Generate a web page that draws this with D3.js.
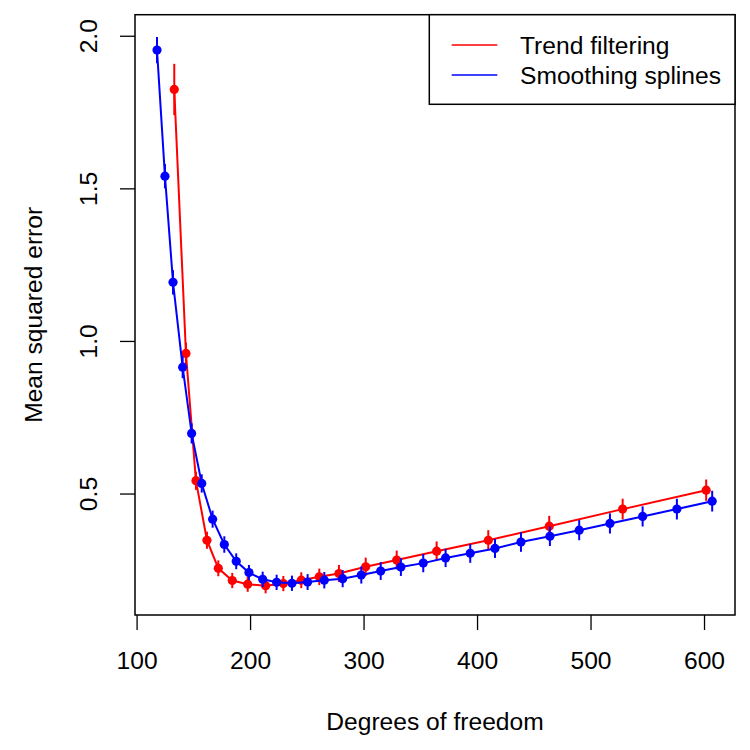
<!DOCTYPE html>
<html>
<head>
<meta charset="utf-8">
<script src="https://cdn.jsdelivr.net/npm/d3@7"></script>
<style>
  html, body { margin: 0; padding: 0; background: #fff; }
  svg { display: block; font-family: "Liberation Sans", Arial, Helvetica, sans-serif; }
</style>
</head>
<body>
<svg id="chart" width="750" height="750"></svg>
<script>
// ---- Data ----
const seriesNames = ["Trend filtering", "Smoothing splines"];
const seriesColors = ["#ff0000", "#0000ff"];

const tfDf  = [133.2, 143.5, 152.3, 162.0, 172.0, 184.3, 197.9, 213.7, 229.3, 245.1, 261.0, 278.3, 301.9, 329.2, 364.4, 409.9, 463.6, 528.3, 601.9];
const tfMse = [1.824, 0.959, 0.542, 0.347, 0.255, 0.215, 0.203, 0.198, 0.205, 0.216, 0.227, 0.238, 0.260, 0.282, 0.311, 0.347, 0.393, 0.449, 0.511];
const tfSe  = [0.084, 0.035, 0.030, 0.028, 0.026, 0.025, 0.025, 0.025, 0.025, 0.026, 0.027, 0.028, 0.030, 0.031, 0.032, 0.033, 0.034, 0.034, 0.035];

const ssDf  = [118.0, 125.0, 132.1, 140.6, 148.5, 157.4, 167.0, 177.3, 187.8, 199.0, 211.1, 223.4, 236.9, 250.7, 265.4, 281.6, 298.0, 315.1, 332.9, 352.6, 372.3, 394.0, 415.8, 438.7, 464.2, 490.0, 517.1, 545.9, 576.1, 607.2];
const ssMse = [1.953, 1.540, 1.192, 0.914, 0.697, 0.533, 0.416, 0.333, 0.278, 0.241, 0.219, 0.209, 0.206, 0.210, 0.216, 0.221, 0.233, 0.246, 0.259, 0.272, 0.289, 0.304, 0.320, 0.341, 0.360, 0.380, 0.402, 0.425, 0.449, 0.475];
const ssSe  = [0.043, 0.040, 0.040, 0.036, 0.033, 0.030, 0.028, 0.027, 0.026, 0.025, 0.025, 0.025, 0.025, 0.026, 0.027, 0.028, 0.028, 0.029, 0.029, 0.030, 0.030, 0.031, 0.031, 0.032, 0.032, 0.033, 0.033, 0.033, 0.034, 0.034];

const xTicks = [100, 200, 300, 400, 500, 600];
const yTicks = [0.5, 1.0, 1.5, 2.0];
const yTickLabels = ["0.5", "1.0", "1.5", "2.0"];
const xLim = [98.6, 627.3];
const yLim = [0.102, 2.069];
const xTitle = "Degrees of freedom";
const yTitle = "Mean squared error";

// ---- Layout ----
const L = 135, R = 735, T = 14.7, B = 615;
const FS = 24.6;

const svg = d3.select("#chart");
const x = d3.scaleLinear().domain(xLim).range([L, R]);
const y = d3.scaleLinear().domain(yLim).range([B, T]);

const series = [
  { name: seriesNames[0], color: seriesColors[0], df: tfDf, mse: tfMse, se: tfSe },
  { name: seriesNames[1], color: seriesColors[1], df: ssDf, mse: ssMse, se: ssSe }
].map(s => ({ ...s, pts: s.df.map((d, i) => ({ x: d, y: s.mse[i], se: s.se[i] })) }));

const plot = svg.append("g");
const line = d3.line().x(d => x(d.x)).y(d => y(d.y));

series.forEach(s => {
  const g = plot.append("g");
  g.append("path").datum(s.pts)
    .attr("d", line).attr("fill", "none")
    .attr("stroke", s.color).attr("stroke-width", 2);
  g.selectAll("line.err").data(s.pts).enter().append("line")
    .attr("x1", d => x(d.x)).attr("x2", d => x(d.x))
    .attr("y1", d => y(d.y - d.se)).attr("y2", d => y(d.y + d.se))
    .attr("stroke", s.color).attr("stroke-width", 2);
  g.selectAll("circle").data(s.pts).enter().append("circle")
    .attr("cx", d => x(d.x)).attr("cy", d => y(d.y)).attr("r", 4.6)
    .attr("fill", s.color);
});

// ---- Axes ----
const xAxis = svg.append("g").attr("transform", `translate(0,${B})`)
  .call(d3.axisBottom(x).tickValues(xTicks).tickSize(15).tickPadding(21.5).tickFormat(d3.format("d")));
xAxis.select(".domain").remove();
xAxis.selectAll("line").attr("stroke", "#000").attr("stroke-width", 1.3);
xAxis.selectAll("text").attr("font-size", FS).attr("fill", "#000")
  .attr("font-family", "Liberation Sans, Arial, sans-serif");

const yAxis = svg.append("g").attr("transform", `translate(${L},0)`)
  .call(d3.axisLeft(y).tickValues(yTicks).tickSize(15).tickFormat((d, i) => yTickLabels[i]));
yAxis.select(".domain").remove();
yAxis.selectAll("line").attr("stroke", "#000").attr("stroke-width", 1.3);
yAxis.selectAll("text")
  .attr("x", null).attr("y", null).attr("dy", null)
  .attr("transform", "translate(-38,0) rotate(-90)")
  .attr("text-anchor", "middle")
  .attr("font-size", FS).attr("fill", "#000")
  .attr("font-family", "Liberation Sans, Arial, sans-serif");

// box
svg.append("rect").attr("x", L).attr("y", T).attr("width", R - L).attr("height", B - T)
  .attr("fill", "none").attr("stroke", "#000").attr("stroke-width", 1.5);

// titles
svg.append("text").attr("x", (L + R) / 2).attr("y", 730).attr("text-anchor", "middle")
  .attr("font-size", FS).text(xTitle);
svg.append("text").attr("transform", `translate(41.5,${(T + B) / 2}) rotate(-90)`)
  .attr("text-anchor", "middle").attr("font-size", FS).text(yTitle);

// ---- Legend ----
const lg = svg.append("g");
lg.append("rect").attr("x", 429.3).attr("y", T).attr("width", R - 429.3).attr("height", 104.3 - T)
  .attr("fill", "#fff").attr("stroke", "#000").attr("stroke-width", 1.5);
series.forEach((s, i) => {
  const cy = 45 + i * 30;
  lg.append("line").attr("x1", 451.7).attr("x2", 497.3).attr("y1", cy).attr("y2", cy)
    .attr("stroke", s.color).attr("stroke-width", 1.5);
  lg.append("text").attr("x", 520).attr("y", cy + 8.8).attr("font-size", FS).text(s.name);
});
</script>
</body>
</html>
